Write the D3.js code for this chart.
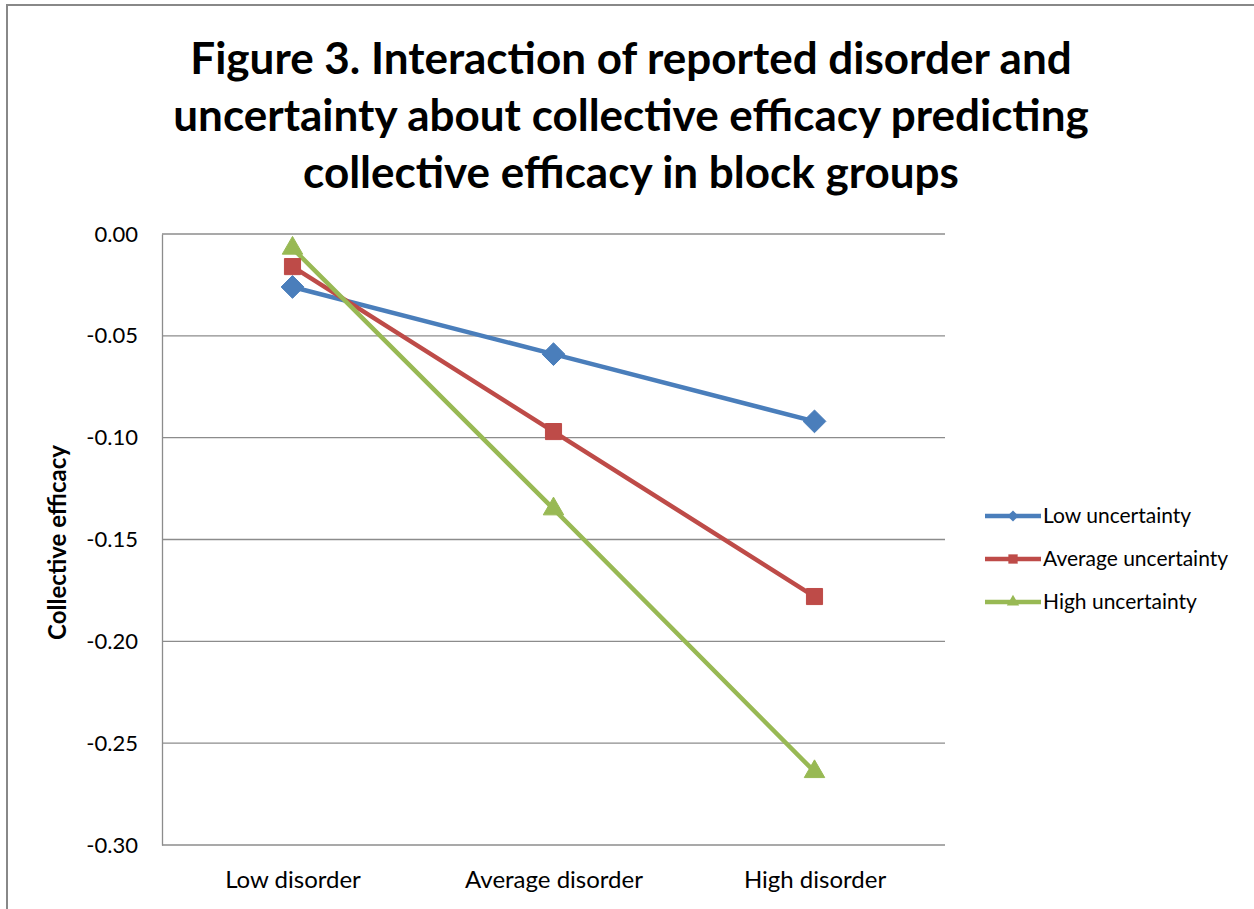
<!DOCTYPE html>
<html>
<head>
<meta charset="utf-8">
<script src="https://cdn.jsdelivr.net/npm/d3@7"></script>
<style>
  html, body { margin: 0; padding: 0; background: #fff; }
  svg { display: block; }
</style>
</head>
<body>
<div id="chart"></div>
<script>
// Data
const categories = ['Low disorder', 'Average disorder', 'High disorder'];
const seriesNames = ['Low uncertainty', 'Average uncertainty', 'High uncertainty'];
const lowUncertainty = [-0.026, -0.059, -0.092];
const averageUncertainty = [-0.016, -0.097, -0.178];
const highUncertainty = [-0.007, -0.135, -0.264];
const yTicks = [0, -0.05, -0.10, -0.15, -0.20, -0.25, -0.30];
const titleLines = [
  'Figure 3. Interaction of reported disorder and',
  'uncertainty about collective efficacy predicting',
  'collective efficacy in block groups'
];

const width = 1254;
const height = 909;
const font = 'Lato, "Open Sans", sans-serif';

const series = [
  { name: seriesNames[0], values: lowUncertainty, color: '#4a7ebb', shape: 'diamond' },
  { name: seriesNames[1], values: averageUncertainty, color: '#be4b48', shape: 'square' },
  { name: seriesNames[2], values: highUncertainty, color: '#98b954', shape: 'triangle' }
];

const svg = d3.select('#chart')
  .append('svg')
  .attr('width', width)
  .attr('height', height);

// outer chart frame (cut off at right/bottom in the original)
svg.append('rect')
  .attr('x', 7)
  .attr('y', 5)
  .attr('width', width + 20)
  .attr('height', height + 20)
  .attr('fill', '#fff')
  .attr('stroke', '#888')
  .attr('stroke-width', 2);

// Title
svg.append('g')
  .selectAll('text')
  .data(titleLines)
  .enter()
  .append('text')
  .attr('x', 631)
  .attr('y', (d, i) => 74 + i * 57)
  .attr('text-anchor', 'middle')
  .attr('font-family', font)
  .attr('font-weight', 'bold')
  .attr('font-size', '44px')
  .attr('fill', '#000')
  .text(d => d);

const plot = { left: 162, right: 945, top: 234, bottom: 845 };

const x = d3.scalePoint()
  .domain(categories)
  .range([plot.left, plot.right])
  .padding(0.5);

const y = d3.scaleLinear()
  .domain([-0.30, 0])
  .range([plot.bottom, plot.top]);

// Gridlines
svg.append('g')
  .selectAll('line')
  .data(yTicks)
  .enter()
  .append('line')
  .attr('x1', plot.left)
  .attr('x2', plot.right)
  .attr('y1', d => y(d))
  .attr('y2', d => y(d))
  .attr('stroke', '#8c8c8c')
  .attr('stroke-width', 1.3);

// Y axis (plain hyphen for the minus sign, as in the original)
const fmt = d3.format('.2f');
const yAxis = svg.append('g')
  .attr('transform', `translate(${plot.left},0)`)
  .call(d3.axisLeft(y).tickValues(yTicks).tickSize(0).tickPadding(24)
    .tickFormat(d => fmt(d).replace('\u2212', '-')));
yAxis.select('.domain').attr('stroke', '#8c8c8c').attr('stroke-width', 1.3);
yAxis.selectAll('text')
  .attr('font-family', font)
  .attr('font-size', '22px')
  .attr('fill', '#000');

// X axis labels
const xAxis = svg.append('g')
  .attr('transform', `translate(0,${plot.bottom})`)
  .call(d3.axisBottom(x).tickSize(0).tickPadding(26));
xAxis.select('.domain').remove();
xAxis.selectAll('text')
  .attr('font-family', font)
  .attr('font-size', '24px')
  .attr('fill', '#000');

// Y axis title
svg.append('text')
  .attr('transform', `translate(66,${(plot.top + plot.bottom) / 2 + 3}) rotate(-90)`)
  .attr('text-anchor', 'middle')
  .attr('font-family', font)
  .attr('font-weight', 'bold')
  .attr('font-size', '24px')
  .attr('fill', '#000')
  .text('Collective efficacy');

const symbolType = {
  diamond: d3.symbolDiamond2,
  square: d3.symbolSquare2,
  triangle: d3.symbolTriangle2
};
const symbolSize = { diamond: 330, square: 330, triangle: 300 };

const line = d3.line()
  .x((d, i) => x(categories[i]))
  .y(d => y(d));

series.forEach(s => {
  svg.append('path')
    .datum(s.values)
    .attr('d', line)
    .attr('fill', 'none')
    .attr('stroke', s.color)
    .attr('stroke-width', 4.5)
    .attr('stroke-linejoin', 'round');
});

series.forEach(s => {
  const sym = d3.symbol().type(symbolType[s.shape]).size(symbolSize[s.shape]);
  svg.append('g')
    .selectAll('path')
    .data(s.values)
    .enter()
    .append('path')
    .attr('transform', (d, i) => `translate(${x(categories[i])},${y(d)})`)
    .attr('d', sym)
    .attr('fill', s.color)
    .attr('stroke', s.color)
    .attr('stroke-width', 1);
});

// Legend
const legend = svg.append('g')
  .attr('transform', 'translate(985,516)');
const rows = legend.selectAll('g')
  .data(series)
  .enter()
  .append('g')
  .attr('transform', (d, i) => `translate(0,${i * 43})`);
rows.append('line')
  .attr('x1', 0)
  .attr('x2', 56)
  .attr('stroke', d => d.color)
  .attr('stroke-width', 4.5);
rows.append('path')
  .attr('transform', 'translate(28,0)')
  .attr('d', d => d3.symbol().type(symbolType[d.shape]).size(d.shape === 'diamond' ? 80 : 110)())
  .attr('fill', d => d.color);
rows.append('text')
  .attr('x', 58)
  .attr('y', 7)
  .attr('font-family', font)
  .attr('font-size', '21px')
  .attr('fill', '#000')
  .text(d => d.name);
</script>
</body>
</html>
